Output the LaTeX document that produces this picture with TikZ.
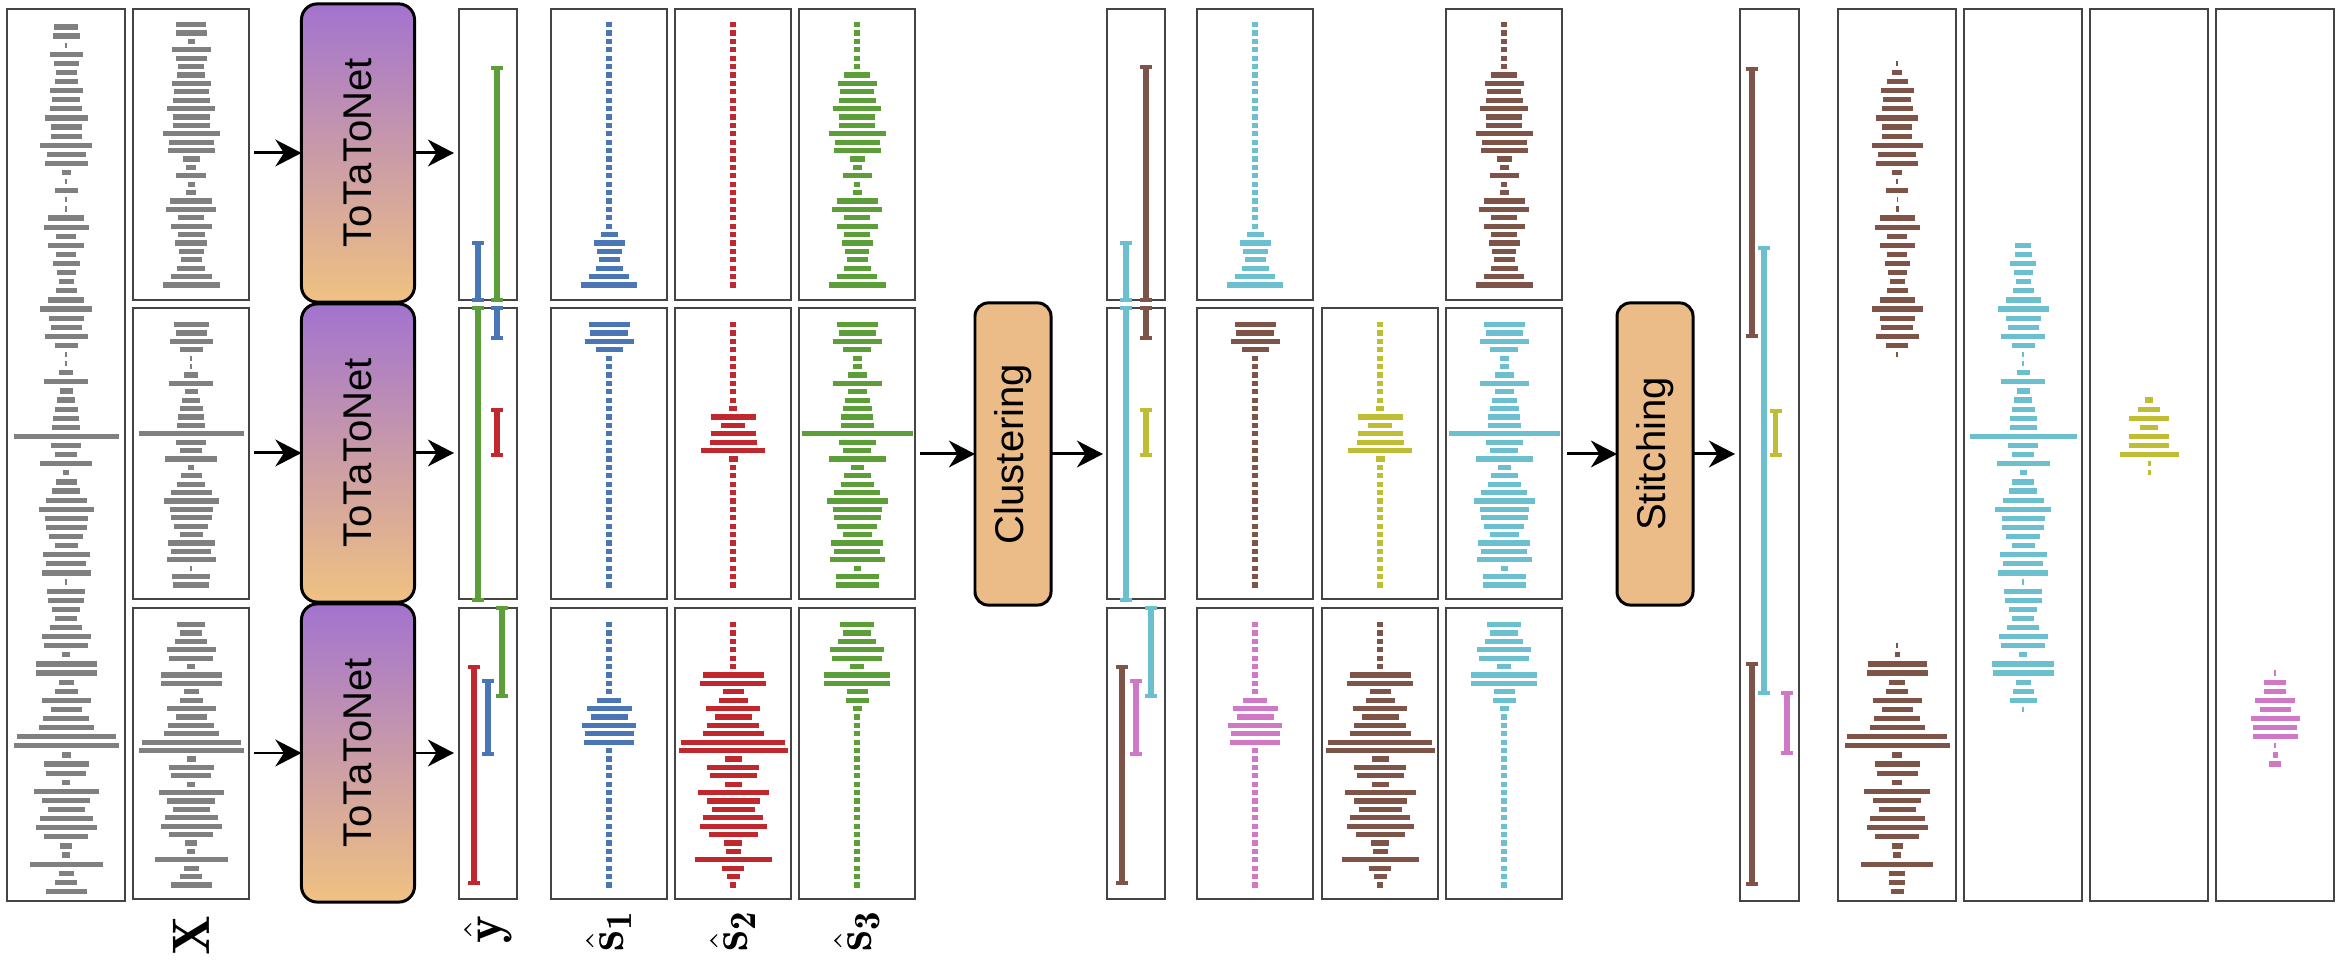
\documentclass[tikz,border=0pt]{standalone}
\usepackage{graphicx}
\usepackage{fontspec}
\newfontfamily\sansf{Liberation Sans}
\usetikzlibrary{arrows.meta}
\definecolor{cgray}{HTML}{808080}
\definecolor{cblue}{HTML}{4A76B6}
\definecolor{cred}{HTML}{C0282E}
\definecolor{cgreen}{HTML}{5C9F38}
\definecolor{ccyan}{HTML}{6CBFCE}
\definecolor{cbrown}{HTML}{7E5449}
\definecolor{colive}{HTML}{BEBD33}
\definecolor{cpink}{HTML}{D078C6}
\definecolor{cpurple}{HTML}{A273CF}
\definecolor{corange}{HTML}{F0C281}
\definecolor{ctan}{HTML}{EBBC88}
\definecolor{cframe}{HTML}{444444}
% bar lists
\def\Xone{30,31,7,39,31,26,28,39,35,37,48,37,37,57,45,47,17,10,30,7,10,42,50,26,41,27,32,25,21,28,41,57}
\def\Xtwo{35,31,43,23,2.5,2.5,14,44,13,18,23,26,28,105,30,22,52,6,21,28,41,55,43,41,34,23,47,40,49,2.5,38,36}
\def\Xthree{28,22,32,49,44,8,61,61,15,23,49,31,46,55,99,105,9,45,40,8,65,48,37,53,61,44,12,8,73,15,22,41}
\def\Fone{24,27,2,33,25,21,23,33,28,32,43,31,31,52,39,43,9,2,23,1.5,2,36,45,20,36,20,27,19,15,21,36,52}
\def\SoneA{6,6,6,6,6,6,6,6,6,6,6,6,6,6,6,6,6,6,6,6,6,6,6,6,6,17,31,25,21,27,40,56}
\def\StwoA{6,6,6,6,6,6,6,6,6,6,6,6,6,6,6,6,6,6,6,6,6,6,6,6,6,6,6,6,6,6,6,6}
\def\SthreeA{6,6,6,6,6,6,26,39,34,37,48,36,36,57,45,47,15,9,29,6,9,41,50,26,41,26,31,24,21,27,40,57}
\def\SoneB{41,38,49,27,6,6,6,6,6,6,6,6,6,6,6,6,6,6,6,6,6,6,6,6,6,6,6,6,6,6,6,6}
\def\StwoB{6,6,6,6,6,6,6,6,6,6,8,45,24,45,47,64,9,6,6,6,6,6,6,6,6,6,6,6,6,6,6,6}
\def\SthreeB{41,37,49,28,9,9,19,49,19,25,29,32,33,111,37,28,57,13,27,33,46,61,49,47,40,29,52,46,55,7,43,43}
\def\SoneC{6,6,6,6,6,6,6,6,6,24,45,37,54,49,50,6,6,6,6,6,6,6,6,6,6,6,6,6,6,6,6,6}
\def\StwoC{6,6,6,6,6,6,61,66,21,29,54,37,52,61,104,109,17,52,47,17,71,53,43,60,67,49,18,15,77,22,13,6}
\def\SthreeC{34,28,38,54,50,14,66,66,21,23,9,6,6,6,6,6,6,6,6,6,6,6,6,6,6,6,6,6,6,6,6,6}
\def\StBrownA{2,10,21,33,28,31,42,30,30,51,38,42,10,2,22,1,3,35,45,20,35,20,25,19,15,21,35,51,35,32,43,22,1.5}
\def\StBrownB{2,5,59,61,16,22,49,31,46,55,100,105,10,45,41,10,66,48,37,55,61,44,11,8,72,16,16,13}
\def\StCyan{16,17,26,19,15,21,35,51,35,31,44,23,2,2,13,44,13,18,23,27,27,107,30,22,53,7,22,28,41,56,43,42,34,23,47,40,50,2,38,37,28,22,32,49,44,8,62,61,15,21,27,2}
\def\StOlive{8,22,40,18,40,40,59,3,3}
\def\StPink{1.5,22,22,40,31,49,44,45,1.5,5,12}
% cx, y0, spacing, colour, list macro
\newcommand\barcol[5]{%
  \foreach \w [count=\i from 0] in #5 {\fill[#4] ({#1-\w/2},{#2+#3*\i-2.6}) rectangle ++(\w,5.2);}}
% x, y1, y2, colour
\newcommand\ibar[4]{%
  \draw[#4, line width=1.6pt] (#1,#2) -- (#1,#3);
  \draw[#4, line width=1pt] (#1-6,#2) -- (#1+6,#2) (#1-6,#3) -- (#1+6,#3);}
% name, x, y, w, h
\newcommand\panel[5]{\node[panelbox, minimum width=#4*0.01cm, minimum height=#5*0.01cm, anchor=north west] (#1) at (#2,#3) {};}
\begin{document}
\begin{tikzpicture}[x=0.01cm, y=-0.01cm,
  panelbox/.style={draw=cframe, line width=0.5pt, inner sep=0pt, outer sep=0pt},
  ttbox/.style={draw=black, line width=0.85pt, rounded corners=4.5pt, top color=cpurple, bottom color=corange, minimum width=1.13cm, minimum height=2.98cm, inner sep=0pt, outer sep=0pt, font=\sansf\fontsize{11.4}{12}\selectfont},
  opbox/.style={draw=black, line width=0.85pt, rounded corners=3.8pt, fill=ctan, minimum width=0.76cm, minimum height=3.02cm, inner sep=0pt, outer sep=0pt, font=\sansf\fontsize{11.4}{12}\selectfont},
  arr/.style={-{Stealth[length=7.4pt, width=7.6pt, inset=2.4pt]}, line width=0.85pt, black},
  lab/.style={rotate=90, inner sep=0pt, font=\fontsize{15}{17}\selectfont}]
\useasboundingbox (0,0) rectangle (2337,962);
\fill[white] (0,0) rectangle (2337,962);
% ---------- panels ----------
\panel{full}{7}{9}{118}{892}
\panel{xa}{133}{9}{116}{291}
\panel{xb}{133}{308}{116}{291}
\panel{xc}{133}{608}{116}{291}
\panel{ya}{459}{9}{58}{291}
\panel{yb}{459}{308}{58}{291}
\panel{yc}{459}{608}{58}{291}
\panel{sa1}{551}{9}{116}{291}
\panel{sb1}{551}{308}{116}{291}
\panel{sc1}{551}{608}{116}{291}
\panel{sa2}{675}{9}{116}{291}
\panel{sb2}{675}{308}{116}{291}
\panel{sc2}{675}{608}{116}{291}
\panel{sa3}{799}{9}{116}{291}
\panel{sb3}{799}{308}{116}{291}
\panel{sc3}{799}{608}{116}{291}
\panel{cya}{1107}{9}{58}{291}
\panel{cyb}{1107}{308}{58}{291}
\panel{cyc}{1107}{608}{58}{291}
\panel{caA}{1197}{9}{116}{291}
\panel{caC}{1446}{9}{116}{291}
\panel{cbA}{1197}{308}{116}{291}
\panel{cbB}{1322}{308}{116}{291}
\panel{cbC}{1446}{308}{116}{291}
\panel{ccA}{1197}{608}{116}{291}
\panel{ccB}{1322}{608}{116}{291}
\panel{ccC}{1446}{608}{116}{291}
\panel{sty}{1740}{9}{59}{892}
\panel{f1}{1838}{9}{118}{892}
\panel{f2}{1964}{9}{118}{892}
\panel{f3}{2090}{9}{118}{892}
\panel{f4}{2216}{9}{118}{892}
% ---------- boxes ----------
\node[ttbox] (tt1) at (358,153) {\rotatebox{90}{ToTaToNet}};
\node[ttbox] (tt2) at (358,453) {\rotatebox{90}{ToTaToNet}};
\node[ttbox] (tt3) at (358,753) {\rotatebox{90}{ToTaToNet}};
\node[opbox] (clu) at (1013,454) {\rotatebox{90}{Clustering}};
\node[opbox] (sti) at (1655,454) {\rotatebox{90}{Stitching}};
% ---------- arrows ----------
\draw[arr, shorten <=0.05cm] (xa.east |- tt1.west) -- (tt1.west);
\draw[arr, shorten <=0.05cm] (xb.east |- tt2.west) -- (tt2.west);
\draw[arr, shorten <=0.05cm] (xc.east |- tt3.west) -- (tt3.west);
\draw[arr, shorten >=0.05cm] (tt1.east) -- (ya.west |- tt1.east);
\draw[arr, shorten >=0.05cm] (tt2.east) -- (yb.west |- tt2.east);
\draw[arr, shorten >=0.05cm] (tt3.east) -- (yc.west |- tt3.east);
\draw[arr, shorten <=0.05cm] (sb3.east |- clu.west) -- (clu.west);
\draw[arr, shorten >=0.04cm] (clu.east) -- (cyb.west |- clu.east);
\draw[arr, shorten <=0.05cm] (cbC.east |- sti.west) -- (sti.west);
\draw[arr, shorten >=0.05cm] (sti.east) -- (sty.west |- sti.east);
% ---------- mixture bars ----------
\barcol{66}{27}{9.1}{cgray}{\Fone}
\barcol{66}{318.2}{9.1}{cgray}{\Xtwo}
\barcol{66}{609.4}{9.1}{cgray}{\Xthree}
\barcol{191}{24.7}{8.4}{cgray}{\Xone}
\barcol{191}{324.7}{8.4}{cgray}{\Xtwo}
\barcol{191}{624.7}{8.4}{cgray}{\Xthree}
% ---------- separated sources ----------
\barcol{609}{24.7}{8.4}{cblue}{\SoneA}
\barcol{733}{24.7}{8.4}{cred}{\StwoA}
\barcol{857}{24.7}{8.4}{cgreen}{\SthreeA}
\barcol{609}{324.7}{8.4}{cblue}{\SoneB}
\barcol{733}{324.7}{8.4}{cred}{\StwoB}
\barcol{857}{324.7}{8.4}{cgreen}{\SthreeB}
\barcol{609}{624.7}{8.4}{cblue}{\SoneC}
\barcol{733}{624.7}{8.4}{cred}{\StwoC}
\barcol{857}{624.7}{8.4}{cgreen}{\SthreeC}
% ---------- clustered sources ----------
\barcol{1255}{24.7}{8.4}{ccyan}{\SoneA}
\barcol{1504}{24.7}{8.4}{cbrown}{\SthreeA}
\barcol{1255}{324.7}{8.4}{cbrown}{\SoneB}
\barcol{1380}{324.7}{8.4}{colive}{\StwoB}
\barcol{1504}{324.7}{8.4}{ccyan}{\SthreeB}
\barcol{1255}{624.7}{8.4}{cpink}{\SoneC}
\barcol{1380}{624.7}{8.4}{cbrown}{\StwoC}
\barcol{1504}{624.7}{8.4}{ccyan}{\SthreeC}
% ---------- stitched sources ----------
\barcol{1897}{63.4}{9.1}{cbrown}{\StBrownA}
\barcol{1897}{645.8}{9.1}{cbrown}{\StBrownB}
\barcol{2023}{245.4}{9.1}{ccyan}{\StCyan}
\barcol{2149}{400.1}{9.1}{colive}{\StOlive}
\barcol{2275}{673.1}{9.1}{cpink}{\StPink}
% ---------- activity intervals ----------
\ibar{478}{243}{300}{cblue}
\ibar{497}{68}{300}{cgreen}
\ibar{478}{308}{600}{cgreen}
\ibar{497}{308}{338}{cblue}
\ibar{497}{410}{455}{cred}
\ibar{474}{667}{883}{cred}
\ibar{488}{681}{754}{cblue}
\ibar{502}{608}{696}{cgreen}
\ibar{1126}{243}{300}{ccyan}
\ibar{1146}{67}{300}{cbrown}
\ibar{1126}{308}{600}{ccyan}
\ibar{1146}{308}{338}{cbrown}
\ibar{1146}{410}{455}{colive}
\ibar{1122}{667}{883}{cbrown}
\ibar{1136}{681}{754}{cpink}
\ibar{1151}{608}{696}{ccyan}
\ibar{1752}{69}{336}{cbrown}
\ibar{1764}{248}{693}{ccyan}
\ibar{1775.5}{411}{455}{colive}
\ibar{1752}{664}{884}{cbrown}
\ibar{1787}{693}{753}{cpink}
% ---------- labels ----------
\node[lab] (lx) at (191,936) {$\mathbf{X}$};
\node[lab] (ly) at (488,930) {$\hat{\mathbf{y}}$};
\node[lab] (ls1) at (609,931) {$\hat{\mathbf{s}}_{\mathbf{1}}$};
\node[lab] (ls2) at (733,931) {$\hat{\mathbf{s}}_{\mathbf{2}}$};
\node[lab] (ls3) at (857,931) {$\hat{\mathbf{s}}_{\mathbf{3}}$};
\end{tikzpicture}
\end{document}
